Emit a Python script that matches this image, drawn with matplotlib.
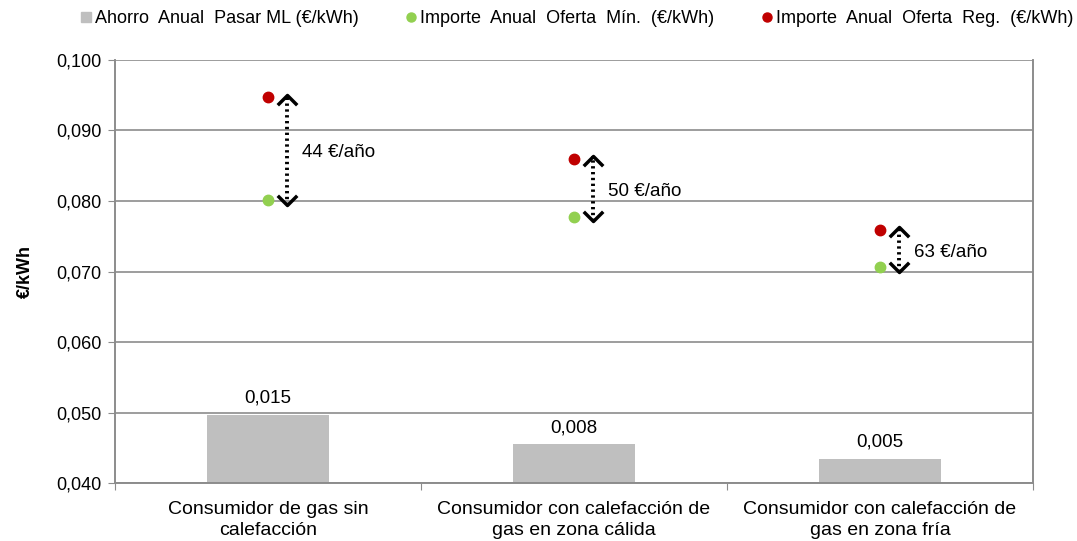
import matplotlib
matplotlib.use('Agg')
import matplotlib.pyplot as plt
from matplotlib.lines import Line2D
from matplotlib.ticker import FuncFormatter
import numpy as np

plt.rcParams['font.family'] = ['Liberation Sans', 'DejaVu Sans']

categories = ['Consumidor de gas sin\ncalefacción',
              'Consumidor con calefacción de\ngas en zona cálida',
              'Consumidor con calefacción de\ngas en zona fría']
ahorro = [0.0145, 0.0082, 0.0052]        # bars, secondary (hidden) scale
oferta_min = [0.0802, 0.0778, 0.0707]
oferta_reg = [0.0947, 0.0860, 0.0759]
ahorro_anual = ['44 €/año', '50 €/año', '63 €/año']

GRAY = '#BFBFBF'
GREEN = '#92D050'
RED = '#C00000'
AXC = '#8C8C8C'

fig = plt.figure(figsize=(10.77, 5.41), dpi=100)
ax = fig.add_axes([0.1068, 0.1072, 0.8523, 0.7819])
ax2 = ax.twinx()

x = np.arange(len(categories))

# bars on hidden secondary axis
ax2.bar(x, ahorro, width=0.4, color=GRAY, zorder=2)
ax2.set_ylim(0, 0.09)
ax2.set_yticks([])
for xi, v in zip(x, ahorro):
    ax2.annotate(f'{v:.3f}'.replace('.', ','), (xi, v), xytext=(0, 6),
                 textcoords='offset points', ha='center', va='bottom', fontsize=13.5)

ax.set_zorder(ax2.get_zorder() + 1)
ax.patch.set_visible(False)

ax.plot(x, oferta_min, 'o', color=GREEN, markersize=7.5, zorder=4)
ax.plot(x, oferta_reg, 'o', color=RED, markersize=7.5, zorder=4)

# dotted double arrows with open chevron heads
chev_up = [(-1, -1.0), (0, 0), (1, -1.0)]
chev_dn = [(-1, 1.0), (0, 0), (1, 1.0)]
for xi, lo, hi, lab in zip(x, oferta_min, oferta_reg, ahorro_anual):
    xa = xi + 0.062
    top = hi + 0.0004
    bot = lo - 0.0007
    ax.plot([xa, xa], [bot, top], color='black', lw=2.8, ls=(0, (0.6, 0.9)),
            dash_capstyle='butt', zorder=3)
    ax.plot([xa], [top], marker=chev_up, markersize=14, mfc='none', mec='black',
            mew=2.5, zorder=3)
    ax.plot([xa], [bot], marker=chev_dn, markersize=14, mfc='none', mec='black',
            mew=2.5, zorder=3)
    ax.annotate(lab, (xi + 0.11, (lo + hi) / 2), xytext=(0, -3),
                textcoords='offset points', ha='left', va='center', fontsize=13.5)

ax.set_xlim(-0.5, len(categories) - 0.5)
ax.set_ylim(0.04, 0.1)
ax.set_yticks(np.arange(0.04, 0.1001, 0.01))
ax.yaxis.set_major_formatter(FuncFormatter(lambda v, p: f'{v:.3f}'.replace('.', ',')))
ax.grid(axis='y', color=AXC, lw=1.2)
ax.set_axisbelow(True)

ax.set_xticks(np.arange(-0.5, len(categories), 1.0))
ax.set_xticklabels([])
ax.set_xticks(x, minor=True)
ax.set_xticklabels(categories, minor=True, fontsize=14, linespacing=1.3)
ax.tick_params(axis='x', which='minor', length=0, pad=13)
ax.tick_params(axis='x', which='major', length=5, color=AXC, direction='out')
ax.tick_params(axis='y', length=5, color=AXC, labelsize=13, pad=5)

for a in (ax, ax2):
    for s in ('left', 'right', 'bottom'):
        a.spines[s].set_color(AXC)
        a.spines[s].set_linewidth(1.2)
    a.spines['top'].set_visible(False)

ax.set_ylabel('€/kWh', fontweight='bold', fontsize=13, labelpad=16)

handles = [Line2D([], [], ls='none', marker='s', color=GRAY, markersize=7),
           Line2D([], [], ls='none', marker='o', color=GREEN, markersize=6.5),
           Line2D([], [], ls='none', marker='o', color=RED, markersize=6.5)]
labels = ['Ahorro  Anual  Pasar ML (€/kWh)',
          'Importe  Anual  Oferta  Mín.  (€/kWh)',
          'Importe  Anual  Oferta  Reg.  (€/kWh)']
ax.legend(handles, labels, loc='center', bbox_to_anchor=(0.503, 1.098), ncol=3,
          frameon=False, fontsize=13, handlelength=0.6, handletextpad=0.2,
          columnspacing=2.6)

fig.savefig('out.png', dpi=100)
